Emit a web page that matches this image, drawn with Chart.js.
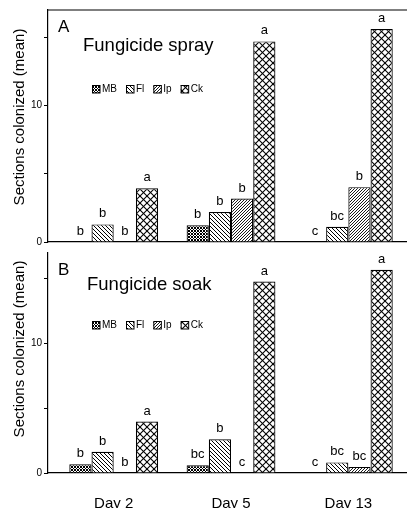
<!DOCTYPE html>
<html>
<head>
<meta charset="utf-8">
<script src="https://cdn.jsdelivr.net/npm/chart.js@4"></script>
<style>
  html, body { margin: 0; padding: 0; background: #fff; overflow: hidden; }
  #wrap { position: relative; width: 407px; height: 508px; }
  .panel { position: absolute; left: 0; width: 407px; }
  #pa { top: 0; height: 250px; }
  #pb { top: 245px; height: 263px; }
</style>
</head>
<body>
<div id="wrap">
  <div class="panel" id="pa"><canvas id="chartA"></canvas></div>
  <div class="panel" id="pb"><canvas id="chartB"></canvas></div>
</div>
<script>
/* ---------- data ---------- */
const days = ['Day 2', 'Day 5', 'Day 13'];
const treatments = ['MB', 'Fl', 'Ip', 'Ck'];
const yTicks = [0, 5, 10, 15];
const yTickLabels = ['0', '', '10', ''];

// A: fungicide spray
const sprayMB = [0, 1.22, 0];
const sprayFl = [1.29, 2.2, 1.12];
const sprayIp = [0, 3.19, 4.02];
const sprayCk = [3.93, 14.7, 15.6];
const sprayLetMB = ['b', 'b', 'c'];
const sprayLetFl = ['b', 'b', 'bc'];
const sprayLetIp = ['b', 'b', 'b'];
const sprayLetCk = ['a', 'a', 'a'];

// B: fungicide soak
const soakMB = [0.67, 0.6, 0];
const soakFl = [1.64, 2.6, 0.82];
const soakIp = [0, 0, 0.47];
const soakCk = [3.97, 14.8, 15.7];
const soakLetMB = ['b', 'bc', 'c'];
const soakLetFl = ['b', 'b', 'bc'];
const soakLetIp = ['b', 'c', 'bc'];
const soakLetCk = ['a', 'a', 'a'];

/* ---------- patterns ---------- */
function hatch(size, lw, dirs) {
  const c = document.createElement('canvas');
  c.width = c.height = size;
  const g = c.getContext('2d');
  g.fillStyle = '#fff';
  g.fillRect(0, 0, size, size);
  g.strokeStyle = '#000';
  g.lineWidth = lw;
  for (const d of dirs) {
    for (let k = -1; k <= 1; k++) {
      g.beginPath();
      if (d === '/') { g.moveTo(k * size, size); g.lineTo(k * size + size, 0); }
      else { g.moveTo(k * size, 0); g.lineTo(k * size + size, size); }
      g.stroke();
    }
  }
  return g.createPattern(c, 'repeat');
}

const FILLS = {
  MB: hatch(3, 1, ['/', '\\']),
  Fl: hatch(4, 1, ['\\']),
  Ip: hatch(3, 0.9, ['/']),
  Ck: hatch(7, 1.1, ['/', '\\']),
};

const FONT = '"Liberation Sans", Arial, sans-serif';
Chart.defaults.font.family = FONT;
Chart.defaults.color = '#000';

/* ---------- plugin: letters, titles, legend ---------- */
function decoPlugin(cfg) {
  return {
    id: 'deco',
    afterDatasetsDraw(chart) {
      const { ctx, chartArea: a } = chart;
      ctx.save();
      ctx.fillStyle = '#000';
      ctx.strokeStyle = '#000';

      // significance letters above bars
      ctx.font = '13px ' + FONT;
      ctx.textAlign = 'center';
      ctx.textBaseline = 'bottom';
      chart.data.datasets.forEach((ds, di) => {
        chart.getDatasetMeta(di).data.forEach((el, i) => {
          ctx.fillText(ds.letters[i], el.x, el.y - 4);
        });
      });

      // box top
      if (cfg.topBorder) {
        ctx.lineWidth = 1.2;
        ctx.beginPath();
        ctx.moveTo(a.left, a.top);
        ctx.lineTo(a.right, a.top);
        ctx.stroke();
      }

      // panel letter and title
      ctx.textAlign = 'left';
      ctx.textBaseline = 'alphabetic';
      ctx.font = '17px ' + FONT;
      ctx.fillText(cfg.letter, a.left + 10, a.top + 22);
      ctx.font = '18.5px ' + FONT;
      ctx.fillText(cfg.title, a.left + cfg.titleDx, a.top + cfg.titleDy);

      // legend
      ctx.font = '10px ' + FONT;
      ctx.textBaseline = 'middle';
      let x = 92;
      const y = a.top + cfg.legendDy;
      chart.data.datasets.forEach((ds) => {
        ctx.fillStyle = ds.backgroundColor;
        ctx.fillRect(x, y - 4, 8, 8);
        ctx.lineWidth = 1;
        ctx.strokeRect(x + 0.5, y - 3.5, 7.5, 7.5);
        ctx.fillStyle = '#000';
        ctx.fillText(ds.label, x + 10, y + 0.5);
        x += 10 + ctx.measureText(ds.label).width + 9;
      });

      // y-axis title
      ctx.save();
      ctx.translate(19.5, cfg.yTitleY);
      ctx.rotate(-Math.PI / 2);
      ctx.textAlign = 'center';
      ctx.textBaseline = 'middle';
      ctx.font = '15px ' + FONT;
      ctx.fillText('Sections colonized (mean)', 0, 0);
      ctx.restore();

      ctx.restore();
    },
  };
}

/* ---------- chart builder ---------- */
function makeDatasets(values, letters) {
  return treatments.map((t, k) => ({
    label: t,
    data: values[k].map((v, i) => ({ x: i + 1, y: v })),
    letters: letters[k],
    backgroundColor: FILLS[t],
    borderColor: '#000',
    borderWidth: 1.2,
    categoryPercentage: 0.757,
    barPercentage: 1.0,
  }));
}

function makeChart(id, values, letters, opts) {
  return new Chart(document.getElementById(id), {
    type: 'bar',
    data: { datasets: makeDatasets(values, letters) },
    options: {
      responsive: true,
      maintainAspectRatio: false,
      animation: false,
      layout: { padding: opts.padding },
      plugins: { legend: { display: false }, tooltip: { enabled: false } },
      scales: {
        x: {
          type: 'linear',
          offset: false,
          min: 0.44,
          max: 3.5,
          afterBuildTicks: (s) => { s.ticks = days.map((d, i) => ({ value: i + 1 })); },
          afterFit: (s) => { s.height = opts.xHeight; },
          grid: { display: false },
          border: { display: true, color: '#000', width: 1.2 },
          ticks: {
            display: opts.showDays,
            padding: 14,
            font: { size: 15 },
            color: '#000',
            callback: (v, i) => days[i],
          },
        },
        y: {
          min: 0,
          max: 17,
          afterBuildTicks: (s) => { s.ticks = yTicks.map((v) => ({ value: v })); },
          afterFit: (s) => { s.width = 48; },
          grid: { drawOnChartArea: false, drawTicks: true, tickLength: 4, color: '#000', lineWidth: 1 },
          border: { display: true, color: '#000', width: 1.2 },
          ticks: {
            padding: 2,
            font: { size: 10 },
            color: '#000',
            callback: (v, i) => yTickLabels[i],
          },
        },
      },
    },
    plugins: [decoPlugin(opts.deco)],
  });
}

makeChart('chartA',
  [sprayMB, sprayFl, sprayIp, sprayCk],
  [sprayLetMB, sprayLetFl, sprayLetIp, sprayLetCk],
  {
    padding: { top: 10, bottom: 4, left: 0, right: 0 },
    xHeight: 0,
    showDays: false,
    deco: { topBorder: true, letter: 'A', title: 'Fungicide spray', titleDx: 35, titleDy: 41, legendDy: 79, yTitleY: 117 },
  });

makeChart('chartB',
  [soakMB, soakFl, soakIp, soakCk],
  [soakLetMB, soakLetFl, soakLetIp, soakLetCk],
  {
    padding: { top: 1, bottom: 0, left: 0, right: 0 },
    xHeight: 35,
    showDays: true,
    deco: { topBorder: false, letter: 'B', title: 'Fungicide soak', titleDx: 39, titleDy: 37, legendDy: 72, yTitleY: 104 },
  });
</script>
</body>
</html>
